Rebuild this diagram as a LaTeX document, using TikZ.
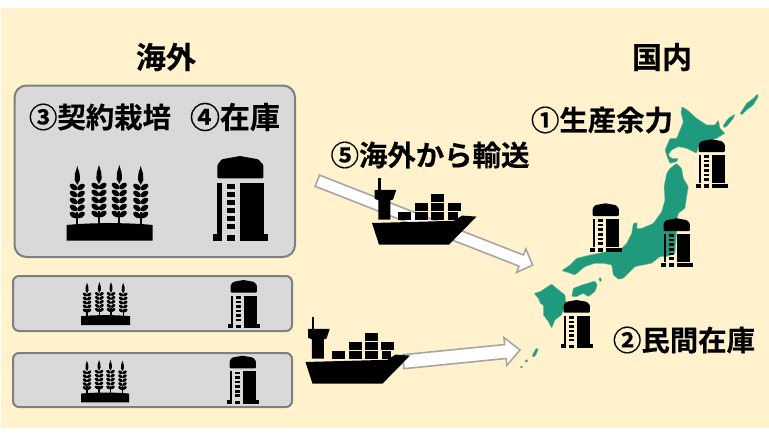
\documentclass[tikz,border=0pt]{standalone}
\usepackage{fontspec}
\setmainfont{Noto Sans CJK JP}[BoldFont={* Bold}]
\newfontfamily\jpbold[FakeBold=0.35]{Noto Sans CJK JP Bold}
\definecolor{panel}{HTML}{FFF2CC}
\definecolor{boxfill}{HTML}{D9D9D9}
\definecolor{boxline}{HTML}{7F7F7F}
\definecolor{jpgreen}{HTML}{1F9A7D}
\definecolor{arrowline}{HTML}{A6A6A6}
\newcommand{\earshape}[2]{%
  \begin{scope}[shift={(#1,#2)}]
    \fill (0,0) -- (2.4,8) -- (2.6,14) -- (0,19) -- (-2.6,14) -- (-2.4,8) -- cycle;
    \foreach \yy in {21,28,35,42,49}{
      \begin{scope}[shift={(3.7,\yy)},rotate=35]\fill (0,0) ellipse (4.4 and 2.7);\end{scope}
      \begin{scope}[shift={(-3.7,\yy)},rotate=-35]\fill (0,0) ellipse (4.4 and 2.7);\end{scope}
    }
    \fill (-1.1,46) rectangle (1.1,60);
  \end{scope}%
}
\tikzset{
  head/.style={font=\jpbold\fontsize{28.4}{30}\selectfont,inner sep=0pt,text=black},
  headbig/.style={head,font=\jpbold\fontsize{30}{32}\selectfont},
  card/.style={draw=boxline,fill=boxfill,line width=2pt,rounded corners=6pt},
  bigcard/.style={card,rounded corners=12pt},
  land/.style={fill=jpgreen,draw=jpgreen!60!panel,line width=.4pt,rounded corners=.8pt},
  blockarrow/.style={fill=white,draw=arrowline,line width=1.6pt,line join=miter},
  wheat/.pic={
    \earshape{10.6}{1}
    \earshape{32.3}{0}
    \earshape{52.6}{0}
    \earshape{74}{1}
    \fill (0,60) .. controls (25,57.5) and (61,57.5) .. (86,60) -- (86,75.7) -- (0,75.7) -- cycle;
  },
  silo/.pic={
    \fill[rounded corners=1pt] (4.7,22.3) -- (4.7,9) -- (9,3.3) -- (27.3,0) -- (45.6,3.3) -- (50.7,9) -- (50.7,22.3) -- cycle;
    \fill (4.7,27.3) rectangle (9,77.5);
    \fill (27.3,27.3) rectangle (51.7,77.5);
    \foreach \yy in {28,36,44,52,60,68}{\fill (14,\yy) rectangle (22.3,\yy+4.6);}
    \fill (0,78) rectangle (9,84.7);
    \fill (14,79) rectangle (22.3,84.7);
    \fill (27.3,78) rectangle (55.7,84.7);
  },
  ship/.pic={
    \fill (-.9,-1) rectangle (1.6,12);
    \fill (-4.3,10.5) -- (17.3,10.5) -- (14,20.3) -- (11.3,21) -- (11.3,40.3) -- (-.7,40.3) -- (-.7,21) -- (-4.3,19.5) -- cycle;
    \fill (-7,43.7) -- (75,41.5) -- (83,36.3) -- (97.5,37.3) -- (70,65.3) -- (0,65.3) -- cycle;
    \foreach \cx/\cy/\cw in {19/32.5/13,36/32.5/13,52.3/32.5/13,69/32.5/9.5,36/23.5/13,52.3/23.5/13,68.5/23.5/13,52.3/14.5/13}{
      \fill (\cx,\cy) rectangle +(\cw,7.7);
    }
  },
}
\newcommand{\blockarr}[7]{% start, end coords named; angle, length, half shaft, head length, half head
  \draw[blockarrow,shift={(#1)},rotate=#3]
    (0,#5) -- (#4-#6,#5) -- (#4-#6,#7) -- (#4,0) -- (#4-#6,-#7) -- (#4-#6,-#5) -- (0,-#5) -- cycle;
}
\begin{document}
\begin{tikzpicture}[x=1pt,y=-1pt]
\useasboundingbox (0,0) rectangle (769,442);
\fill[white] (0,0) rectangle (769,442);
\fill[panel] (1,8) rectangle (769,428);

% cards
\draw[bigcard] (14.5,85.5) rectangle (295,257);
\draw[card] (13,276) rectangle (292,331);
\draw[card] (13,353) rectangle (292,407);

% wheat and silos in the cards
\pic[scale=1] at (66.7,165) {wheat};
\pic[scale=1] at (212.7,156) {silo};
\pic[scale=.57] at (81,282) {wheat};
\pic[scale=.57] at (228,280) {silo};
\pic[scale=.56] at (81,360) {wheat};
\pic[scale=.57] at (227,355.7) {silo};

% Japan
\begin{scope}[shift={(520,80)},x=.3333pt,y=-.3333pt]
\path[land] (485,80)--(500,88)--(530,115)--(560,135)--(585,135)--(595,120)--(600,145)--(615,160)--(590,175)--(560,185)--(535,200)--(530,220)--(500,205)--(475,200)--(455,210)--(445,225)--(455,235)--(475,235)--(470,245)--(450,250)--(443,235)--(435,210)--(450,175)--(470,175)--(480,150)--(490,125)--(483,100)--cycle;
\path[land] (470,250)--(485,265)--(490,295)--(505,320)--(500,350)--(495,385)--(475,400)--(470,425)--(470,455)--(465,520)--(440,530)--(420,530)--(395,550)--(370,555)--(345,560)--(335,570)--(310,595)--(295,598)--(280,585)--(275,555)--(250,550)--(225,550)--(195,560)--(165,585)--(145,578)--(125,572)--(150,555)--(170,535)--(210,525)--(260,515)--(300,510)--(320,490)--(335,460)--(340,430)--(352,428)--(350,445)--(365,445)--(400,430)--(425,395)--(435,360)--(432,320)--(440,280)--(450,265)--cycle;
\path[land] (155,650)--(160,625)--(185,615)--(225,603)--(232,615)--(225,635)--(205,650)--(190,640)--(170,650)--cycle;
\path[land] (236,595)--(242,592)--(245,603)--(240,606)--cycle;
\path[land] (42,640)--(60,635)--(95,612)--(110,625)--(135,645)--(138,670)--(130,690)--(125,705)--(105,720)--(95,745)--(85,725)--(70,705)--(70,675)--(62,672)--(55,655)--cycle;
\path[land] (660,100)--(680,70)--(700,55)--(712,42)--(715,50)--(700,75)--(680,90)--(665,105)--cycle;
\path[land] (610,135)--(625,115)--(645,102)--(640,115)--(620,140)--(610,143)--cycle;
\path[land] (36,828)--(48,805)--(55,806)--(48,825)--(40,832)--cycle;
\path[land] (14,843)--(22,838)--(24,843)--(17,848)--cycle;
\path[land] (0,862)--(6,857)--(9,861)--(3,865)--cycle;
\end{scope}
\pic[scale=.57] at (696,139.3) {silo};
\pic[scale=.57] at (590,203.3) {silo};
\pic[scale=.57] at (661,218.3) {silo};
\pic[scale=.57] at (561,300) {silo};

% arrows and ships
\coordinate (arrowA) at (317.3,180.7);
\coordinate (arrowB) at (403.3,361.7);
\blockarr{arrowA}{}{-21.4}{231.3}{6}{12.3}{12.7}
\blockarr{arrowB}{}{5.7}{117.3}{7}{14.7}{14}
\pic at (379,179.3) {ship};
\pic at (312.5,318.3) {ship};

% labels
\node[headbig] (overseas) at (166,57) {海外};
\node[headbig] (domestic) at (662,57) {国内};
\node[head] (lab3) at (100,117) {③契約栽培};
\node[headbig] (lab4) at (235,117) {④在庫};
\node[head] (lab5) at (430,155) {⑤海外から輸送};
\node[head] (lab1) at (602,120) {①生産余力};
\node[head] (lab2) at (684,340) {②民間在庫};
\end{tikzpicture}
\end{document}
